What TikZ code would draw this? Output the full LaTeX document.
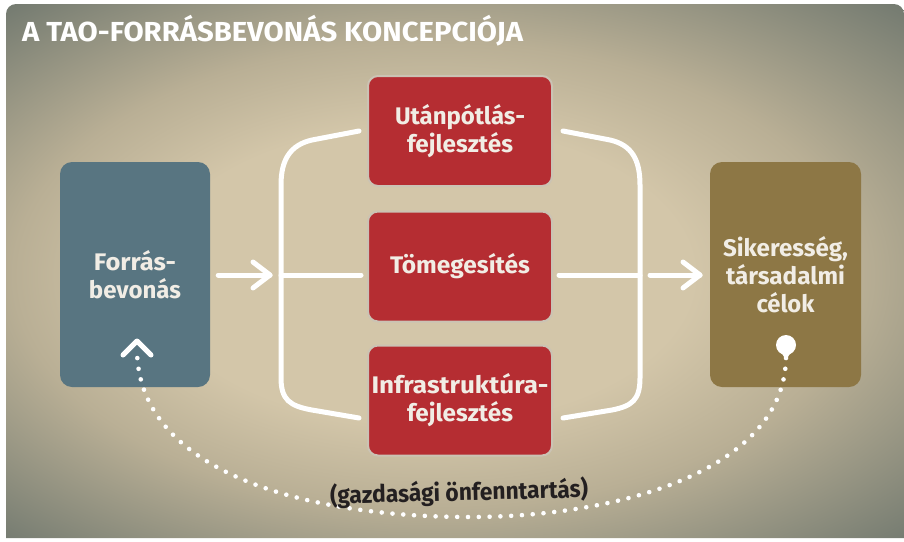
\documentclass[tikz,border=0pt]{standalone}
\usepackage{fontspec}
\setmainfont{Fira Sans}
\usetikzlibrary{calc}
\definecolor{bgA}{HTML}{D3C6A9}
\definecolor{bgB}{HTML}{B9AF95}
\definecolor{bgC}{HTML}{737A70}
\definecolor{blA}{HTML}{587581}
\definecolor{blB}{HTML}{4B6470}
\definecolor{rdA}{HTML}{B52D32}
\definecolor{rdB}{HTML}{9E2429}
\definecolor{brA}{HTML}{8D7745}
\definecolor{brB}{HTML}{7A6536}
\definecolor{lbl}{HTML}{F1EDE5}
\definecolor{rdline}{HTML}{CBC3B4}
\definecolor{ink}{HTML}{231F20}
\pgfdeclareradialshading{bgshade}{\pgfpoint{-6bp}{0bp}}{color(0bp)=(bgA); color(30bp)=(bgA); color(47bp)=(bgB); color(74bp)=(bgC)}
\pgfdeclareradialshading{blueshade}{\pgfpoint{0bp}{0bp}}{color(0bp)=(blA); color(34bp)=(blA); color(52bp)=(blB)}
\pgfdeclareradialshading{redshade}{\pgfpoint{0bp}{0bp}}{color(0bp)=(rdA); color(36bp)=(rdA); color(54bp)=(rdB)}
\pgfdeclareradialshading{brownshade}{\pgfpoint{0bp}{0bp}}{color(0bp)=(brA); color(34bp)=(brA); color(52bp)=(brB)}
\newcommand{\fitw}[2]{\resizebox{#1}{\height}{#2}}
\begin{document}
\begin{tikzpicture}[x=1pt,y=-1pt,
  boxlbl/.style={text=lbl, align=center, font=\fontsize{24}{28}\selectfont\bfseries, inner sep=0pt},
  sidebox/.style={boxlbl, rectangle, rounded corners=12pt, minimum width=150pt, minimum height=225pt},
  redbox/.style={boxlbl, rectangle, rounded corners=10pt, shade, shading=redshade, draw=rdline, line width=2pt, minimum width=184pt, minimum height=110pt},
  flow/.style={draw=white, line width=5pt, line cap=round, line join=round},
  dots/.style={draw=white, line width=4.6pt, line cap=round, dash pattern=on 0pt off 10.8pt}
]
\useasboundingbox (0,0) rectangle (904,541);
\begin{scope}
\clip[rounded corners=10pt] (6,538) |- (904,4) [sharp corners] -- (904,538) -- cycle;
\begin{scope}[shift={(455,275)}, xscale=8.95, yscale=4.95]
\node[transform shape, inner sep=0pt, outer sep=0pt] (bg) at (0,0) {\pgfuseshading{bgshade}};
\end{scope}
\end{scope}

\node[anchor=base west, text=white, inner sep=0pt, font=\fontsize{27.5}{30}\selectfont\bfseries] (title) at (22,41)
  {\fitw{501pt}{A TAO-FORRÁSBEVONÁS KONCEPCIÓJA}};

\node[sidebox, shade, shading=blueshade] (src) at (135,274.5) {\fitw{82pt}{Forrás-}\\\fitw{92pt}{bevonás}};
\node[sidebox, shade, shading=brownshade, minimum width=151pt] (dst) at (785.5,274.5) {\fitw{125pt}{Sikeresség,}\\\fitw{119pt}{társadalmi}\\\fitw{58pt}{célok}};

\node[redbox] (r1) at (460,131) {\fitw{130pt}{Utánpótlás-}\\\fitw{106pt}{fejlesztés}};
\node[redbox] (r2) at (460,266.5) {\fitw{140pt}{Tömegesítés}};
\node[redbox] (r3) at (460,400.5) {\fitw{177pt}{Infrastruktúra-}\\\fitw{106pt}{fejlesztés}};

\coordinate (bL) at (281,275);
\coordinate (bR) at (640,275);
\coordinate (aL) at (270,275);
\coordinate (aR) at (700,275);

% arrows
\draw[flow] ([xshift=8pt]src.east |- aL) -- (aL);
\draw[flow] ($(aL)+(-17,-13)$) -- (aL) -- ($(aL)+(-17,13)$);
\draw[flow] ([xshift=10pt]bR) -- (aR);
\draw[flow] ($(aR)+(-17,-13)$) -- (aR) -- ($(aR)+(-17,13)$);

% left bracket
\draw[flow] ([xshift=-8pt]r1.west) -- (312,140) .. controls (290,145) and (281,160) .. (281,185)
  -- (281,378) .. controls (281,400) and (290,406) .. (312,410) -- ($(r3.west)+(-8,17.5)$);
\draw[flow] (bL) -- ([xshift=-6pt]r2.west |- bL);
% right bracket
\draw[flow] ([xshift=10pt]r1.east) -- (610,140) .. controls (632,145) and (640,160) .. (640,185)
  -- (640,378) .. controls (640,400) and (632,406) .. (612,410) -- ($(r3.east)+(10,17.5)$);
\draw[flow] ([xshift=6pt]r2.east |- bR) -- (bR);

% feedback loop
\coordinate (loopS) at (786,358);
\coordinate (loopE) at (137,352);
\coordinate (tipL) at (137,341);
\fill[white] (786,345) circle (10pt);
\fill[white] (781,352) -- (791,352) -- (786,360) -- cycle;
\draw[dots] (loopS) .. controls (784,470) and (620,517) .. (470,517)
  .. controls (300,517) and (140,470) .. (loopE);
\draw[flow] ($(tipL)+(-14,14)$) -- (tipL) -- ($(tipL)+(14,14)$);

\node[text=ink, inner sep=0pt, rotate=1.5, font=\fontsize{24}{28}\selectfont\bfseries] (note) at (459,493)
  {\fitw{258pt}{(gazdasági önfenntartás)}};
\end{tikzpicture}
\end{document}
